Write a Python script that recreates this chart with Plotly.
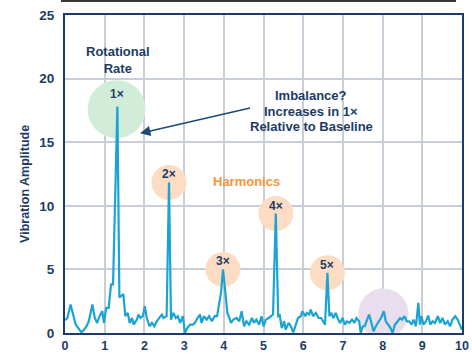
import math
import plotly.graph_objects as go

# Vibration spectrum: frequency (multiples of axis) vs amplitude
freq = [0.00, 0.06, 0.14, 0.21, 0.27, 0.35, 0.41, 0.48, 0.54, 0.60, 0.69, 0.75, 0.81, 0.87, 0.94, 0.98,
        1.04, 1.10, 1.16, 1.21, 1.32, 1.37, 1.41, 1.47, 1.52, 1.58, 1.63, 1.69, 1.73, 1.81, 1.85, 1.90,
        1.96, 2.01, 2.06, 2.13, 2.19, 2.25, 2.31, 2.38, 2.44, 2.48, 2.56, 2.62, 2.67, 2.73, 2.79, 2.84,
        2.90, 2.97, 3.02, 3.08, 3.15, 3.22, 3.27, 3.34, 3.40, 3.44, 3.50, 3.57, 3.63, 3.70, 3.77, 3.83,
        3.88, 3.93, 3.98, 4.04, 4.09, 4.14, 4.18, 4.24, 4.32, 4.39, 4.45, 4.51, 4.57, 4.64, 4.71, 4.76,
        4.82, 4.89, 4.95, 5.00, 5.06, 5.13, 5.18, 5.24, 5.31, 5.37, 5.41, 5.46, 5.52, 5.56, 5.63, 5.69,
        5.75, 5.82, 5.87, 5.94, 5.98, 6.05, 6.09, 6.15, 6.19, 6.25, 6.32, 6.39, 6.45, 6.50, 6.55, 6.61,
        6.66, 6.71, 6.76, 6.82, 6.88, 6.93, 6.99, 7.05, 7.10, 7.16, 7.23, 7.29, 7.34, 7.41, 7.45, 7.50,
        7.55, 7.61, 7.66, 7.72, 7.77, 7.83, 7.89, 7.96, 8.03, 8.08, 8.14, 8.20, 8.25, 8.31, 8.38, 8.44,
        8.49, 8.55, 8.61, 8.67, 8.73, 8.78, 8.84, 8.90, 8.94, 8.98, 9.03, 9.09, 9.15, 9.20, 9.26, 9.32,
        9.39, 9.45, 9.51, 9.57, 9.64, 9.70, 9.76, 9.83, 9.89, 9.95, 10.00]

amplitude = [1.00, 1.18, 2.24, 1.32, 0.66, 0.32, 0.05, 0.26, 0.53, 0.92, 2.24, 1.18, 0.79, 1.32, 1.71, 0.79,
             1.97, 1.97, 3.82, 3.82, 17.8, 2.80, 2.90, 3.05, 1.32, 1.58, 0.79, 1.18, 0.66, 1.05, 1.45, 1.18,
             1.32, 2.11, 1.18, 0.53, 0.79, 0.53, 0.92, 1.18, 1.45, 1.18, 1.32, 11.84, 1.05, 1.58, 1.18, 1.32,
             0.79, 1.32, 0.00, 0.39, 0.66, 0.66, 0.79, 1.18, 1.45, 0.79, 1.32, 1.05, 1.32, 0.92, 1.32, 1.32,
             2.11, 3.16, 5.00, 2.89, 1.58, 1.18, 0.79, 1.05, 1.18, 0.92, 1.71, 0.53, 0.92, 0.66, 1.18, 0.79,
             1.05, 0.66, 1.32, 0.53, 1.05, 1.18, 1.32, 1.45, 9.39, 1.32, 1.39, 0.39, 0.92, 0.26, 0.79, 0.53,
             0.05, 0.79, 1.18, 1.32, 1.71, 1.32, 1.58, 1.45, 1.84, 1.32, 1.58, 1.18, 1.18, 0.92, 0.66, 4.74,
             1.32, 1.58, 1.18, 1.58, 1.05, 0.79, 1.18, 0.66, 0.92, 0.79, 1.05, 0.79, 1.18, 0.92, 0.00, 0.53,
             0.53, 1.05, 1.45, 0.79, 0.13, 0.53, 0.79, 1.18, 1.71, 0.92, 0.66, 0.39, 0.00, 0.66, 0.92, 1.18,
             1.05, 1.32, 0.92, 0.92, 0.66, 1.05, 0.53, 2.37, 0.66, 1.32, 0.66, 0.92, 1.37, 0.66, 0.92, 0.79,
             1.32, 0.79, 1.18, 0.66, 0.92, 0.53, 1.05, 1.32, 1.05, 0.66, 0.26]

# Harmonic peaks of the rotational rate
peak_labels = ["1×", "2×", "3×", "4×", "5×"]
peak_freqs = [1.32, 2.62, 3.98, 5.31, 6.61]
peak_amps = [amplitude[freq.index(f)] for f in peak_freqs]

x_ticks = list(range(0, 11))
y_ticks = [0, 5, 10, 15, 20, 25]

NAVY = "#1d3b66"
LINE = "#1ba3d3"
ORANGE = "#f7953a"
FONT = "Liberation Sans"

W, H = 472, 354
ML, MR, MT, MB = 65, 10, 15, 21
X_RANGE, Y_RANGE = (0, 10), (0, 25)
px_per_x = (W - ML - MR) / (X_RANGE[1] - X_RANGE[0])
px_per_y = (H - MT - MB) / (Y_RANGE[1] - Y_RANGE[0])

fig = go.Figure()

# Region of interest near 8x: a filled disc cut off at the baseline
cx, cy, r = 8.02, 1.55, 25
angles = [2 * math.pi * k / 72 for k in range(73)]
fig.add_trace(go.Scatter(
    x=[cx + r / px_per_x * math.cos(t) for t in angles],
    y=[max(Y_RANGE[0], cy + r / px_per_y * math.sin(t)) for t in angles],
    mode="lines", fill="toself", fillcolor="#e8deee", line=dict(width=0),
    hoverinfo="skip", showlegend=False))

fig.add_trace(go.Scatter(x=freq, y=amplitude, mode="lines",
                         line=dict(color=LINE, width=2.2), hoverinfo="skip",
                         showlegend=False))

shapes = []


def circle(x, y, radius, color):
    return dict(type="circle", xref="x", yref="y",
                xsizemode="pixel", ysizemode="pixel",
                xanchor=x, yanchor=y, x0=-radius, x1=radius, y0=-radius, y1=radius,
                fillcolor=color, line=dict(width=0), layer="between")


# Highlight circles around the peaks
for i, (f, a) in enumerate(zip(peak_freqs, peak_amps)):
    if i == 0:
        shapes.append(circle(f - 0.02, a - 0.2, 29, "#d2ecda"))
    else:
        shapes.append(circle(f, a, 17.5, "#fcdcc2"))

# Dark strip along the top edge
plot_h = H - MT - MB
shapes.append(dict(type="rect", xref="paper", yref="paper",
                   x0=-0.01, x1=0.985, y0=(H - MB - 2) / plot_h, y1=(H - MB) / plot_h,
                   fillcolor="#3b3631", line=dict(width=0), layer="above"))

annotations = []
for i, (lab, f, a) in enumerate(zip(peak_labels, peak_freqs, peak_amps)):
    annotations.append(dict(x=f, y=a, text=lab, showarrow=False,
                            yshift=13 if i == 0 else 8,
                            font=dict(family=FONT, size=12, color=NAVY, weight="bold")))

annotations.append(dict(x=1.33, y=21.5, text="Rotational<br>Rate", showarrow=False,
                        font=dict(family=FONT, size=13, color=NAVY, weight="bold")))
annotations.append(dict(x=4.58, y=11.9, text="Harmonics", showarrow=False,
                        font=dict(family=FONT, size=13, color=ORANGE, weight="bold")))
for txt, yy in [("Imbalance?", 18.65), ("Increases in 1×", 17.45), ("Relative to Baseline", 16.2)]:
    annotations.append(dict(x=6.2, y=yy, text=txt, showarrow=False,
                            font=dict(family=FONT, size=13, color=NAVY, weight="bold")))
# Arrow pointing to the 1x peak
annotations.append(dict(x=1.89, y=15.7, ax=4.70, ay=17.71, axref="x", ayref="y",
                        text="", showarrow=True, arrowhead=2, arrowsize=1.3,
                        arrowwidth=1.6, arrowcolor="#1f4a78"))
# Y-axis title
annotations.append(dict(x=-0.125, y=0.47, xref="paper", yref="paper",
                        text="Vibration Amplitude", textangle=-90, showarrow=False,
                        font=dict(family=FONT, size=12.5, color=NAVY, weight="bold")))

axis_style = dict(ticks="", automargin=False,
                  showgrid=True, gridcolor="#c9ccd9", gridwidth=1.5,
                  showline=True, linecolor=NAVY, linewidth=2, mirror=True,
                  zeroline=False)

tick_font = dict(family=FONT, size=13.5, color=NAVY, weight="bold")

fig.update_layout(
    width=W, height=H,
    margin=dict(l=ML, r=MR, t=MT, b=MB),
    paper_bgcolor="white", plot_bgcolor="white",
    shapes=shapes, annotations=annotations,
    xaxis=dict(range=list(X_RANGE), tickvals=x_ticks, ticklabelstandoff=0,
               tickfont=dict(tick_font, size=12.5), **axis_style),
    yaxis=dict(range=list(Y_RANGE), tickvals=y_ticks, ticklabelstandoff=6,
               tickfont=tick_font, **axis_style),
)

fig.write_html("out.html")
